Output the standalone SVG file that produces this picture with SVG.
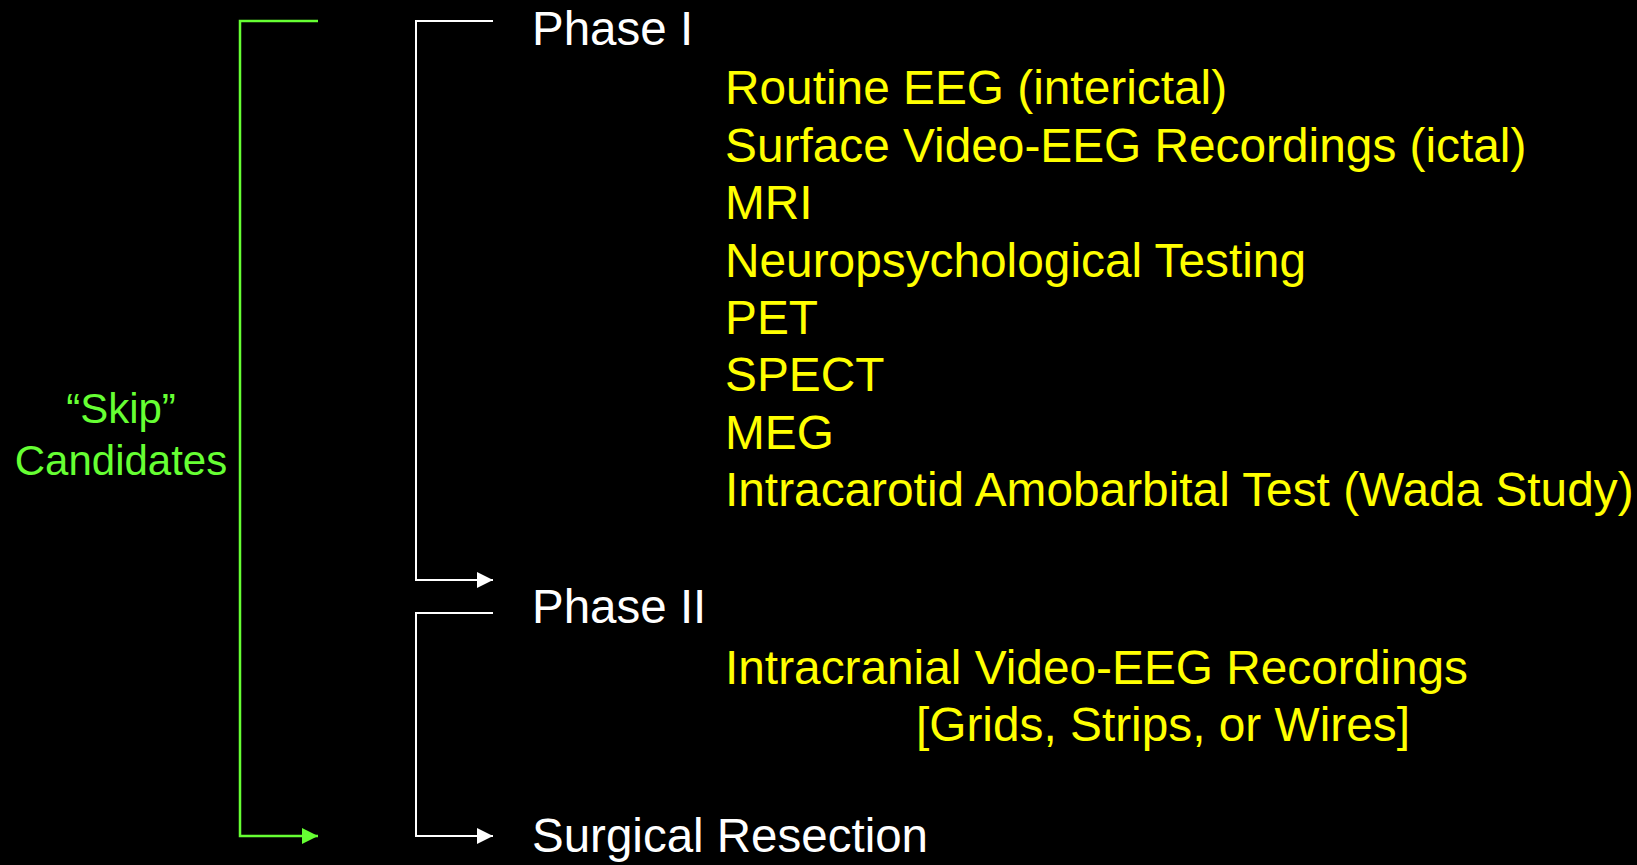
<svg xmlns="http://www.w3.org/2000/svg" width="1637" height="865" viewBox="0 0 1637 865">
<style>
text{font-family:"Liberation Sans",Arial,sans-serif;}
.ph{fill:#ffffff;font-size:47.5px;}
.it{fill:#ffff00;font-size:47.8px;}
.sk{fill:#66ff33;font-size:42px;text-anchor:middle;}
.w{fill:none;stroke:#ffffff;stroke-width:2;}
.g{fill:none;stroke:#66ff33;stroke-width:2.5;}
</style>
<defs>
<marker id="aw" markerUnits="userSpaceOnUse" markerWidth="17" markerHeight="16" refX="16" refY="8" orient="auto"><path d="M0,0 L16,8 L0,16 Z" fill="#ffffff"/></marker>
<marker id="ag" markerUnits="userSpaceOnUse" markerWidth="17" markerHeight="16" refX="16" refY="8" orient="auto"><path d="M0,0 L16,8 L0,16 Z" fill="#66ff33"/></marker>
</defs>
<rect width="1637" height="865" fill="#000000"/>
<g id="connectors">
<path class="g" d="M318,21 H240 V836 H318" marker-end="url(#ag)"/>
<path class="w" d="M493,21 H416 V580 H493" marker-end="url(#aw)"/>
<path class="w" d="M493,613 H416 V836 H493" marker-end="url(#aw)"/>
</g>
<g id="skip"><text class="sk" x="121" y="423">“Skip”</text><text class="sk" x="121" y="475">Candidates</text></g>
<g id="phase1">
<text class="ph" x="532" y="45">Phase I</text>
<text class="it" x="725" y="104">Routine EEG (interictal)</text>
<text class="it" x="725" y="162">Surface Video-EEG Recordings (ictal)</text>
<text class="it" x="725" y="219">MRI</text>
<text class="it" x="725" y="277">Neuropsychological Testing</text>
<text class="it" x="725" y="334">PET</text>
<text class="it" x="725" y="391">SPECT</text>
<text class="it" x="725" y="449">MEG</text>
<text class="it" x="725" y="506">Intracarotid Amobarbital Test (Wada Study)</text>
</g>
<g id="phase2">
<text class="ph" x="532" y="623">Phase II</text>
<text class="it" x="725" y="684">Intracranial Video-EEG Recordings</text>
<text class="it" x="916" y="741">[Grids, Strips, or Wires]</text>
</g>
<g id="surgery"><text class="ph" x="532" y="852">Surgical Resection</text></g>
</svg>
